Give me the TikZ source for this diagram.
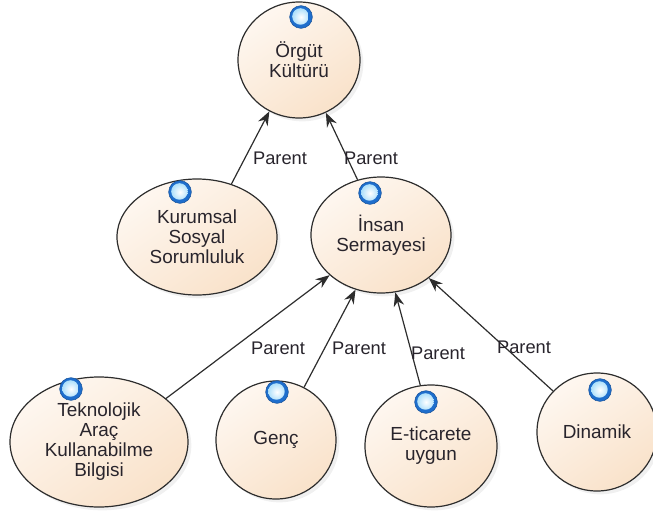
\documentclass[tikz,border=0pt]{standalone}
\usepackage{fontspec}
\setmainfont{Liberation Sans}
\usetikzlibrary{arrows.meta,shapes.geometric,shadows}
\definecolor{edgec}{RGB}{45,45,45}
\definecolor{fillA}{RGB}{254,247,240}
\definecolor{fillB}{RGB}{249,226,202}
\definecolor{ballmid}{RGB}{150,215,250}
\definecolor{ballout}{RGB}{30,110,205}
\definecolor{txt}{RGB}{40,36,44}
\begin{document}
\begin{tikzpicture}[x=0.75pt,y=-0.75pt,
  concept/.style={ellipse, draw=edgec, line width=0.9pt, inner sep=0pt, align=center,
    font=\fontsize{14.2}{15}\selectfont, text=txt,
    top color=fillA, bottom color=fillB, shading angle=35,
    drop shadow={shadow xshift=2.5pt, shadow yshift=-2.5pt, opacity=0.12}},
  orb/.style={circle, inner sep=0pt, minimum size=17pt, fill=ballout,
    draw=ballout!75!black, line width=0.4pt,
    path picture={\shade[inner color=white, outer color=ballmid]
      ([xshift=-0.4pt,yshift=0.4pt]path picture bounding box.center) circle (6.2pt);}},
  link/.style={draw=edgec, line width=0.9pt, -{Stealth[length=10.5pt,width=8pt]}},
  lbl/.style={font=\fontsize{13.7}{16}\selectfont, text=txt, inner sep=0pt}
]
\useasboundingbox (0,0) rectangle (653,525);

\node[concept, minimum width=91.5pt, minimum height=87pt] (org) at (299,60) {Örgüt\\Kültürü};
\node[concept, minimum width=120pt, minimum height=87pt] (kur) at (197,237) {Kurumsal\\Sosyal\\Sorumluluk};
\node[concept, minimum width=105pt, minimum height=87pt] (ins) at (381,235) {İnsan\\Sermayesi};
\node[concept, minimum width=133.5pt, minimum height=97.5pt] (tek) at (99,442) {Teknolojik\\Araç\\Kullanabilme\\Bilgisi};
\node[concept, minimum width=90pt, minimum height=88.5pt] (gen) at (276,440) {Genç};
\node[concept, minimum width=99pt, minimum height=91.5pt] (eti) at (431,446) {E-ticarete\\uygun};
\node[concept, minimum width=90pt, minimum height=88.5pt] (din) at (597,432) {Dinamik};

\node[orb] (iorg) at (301,17) {};
\node[orb] (ikur) at (180,192) {};
\node[orb] (iins) at (370,193) {};
\node[orb] (itek) at (71,389) {};
\node[orb] (igen) at (277,392) {};
\node[orb] (ieti) at (426,402) {};
\node[orb] (idin) at (600,390) {};

\draw[link] (kur.57.5) -- (org.240.6);
\draw[link] (ins.113.6) -- (org.297);
\draw[link] (tek.33.5) -- (ins.218.8);
\draw[link] (gen.62.6) -- (ins.245);
\draw[link] (eti.100.6) -- (ins.284.5);
\draw[link] (din.137.7) -- (ins.318.4);

\node[lbl] (l1) at (280,158) {Parent};
\node[lbl] (l2) at (371,158) {Parent};
\node[lbl] (l3) at (278,348) {Parent};
\node[lbl] (l4) at (359,348) {Parent};
\node[lbl] (l5) at (438,353) {Parent};
\node[lbl] (l6) at (524,347) {Parent};
\end{tikzpicture}
\end{document}
